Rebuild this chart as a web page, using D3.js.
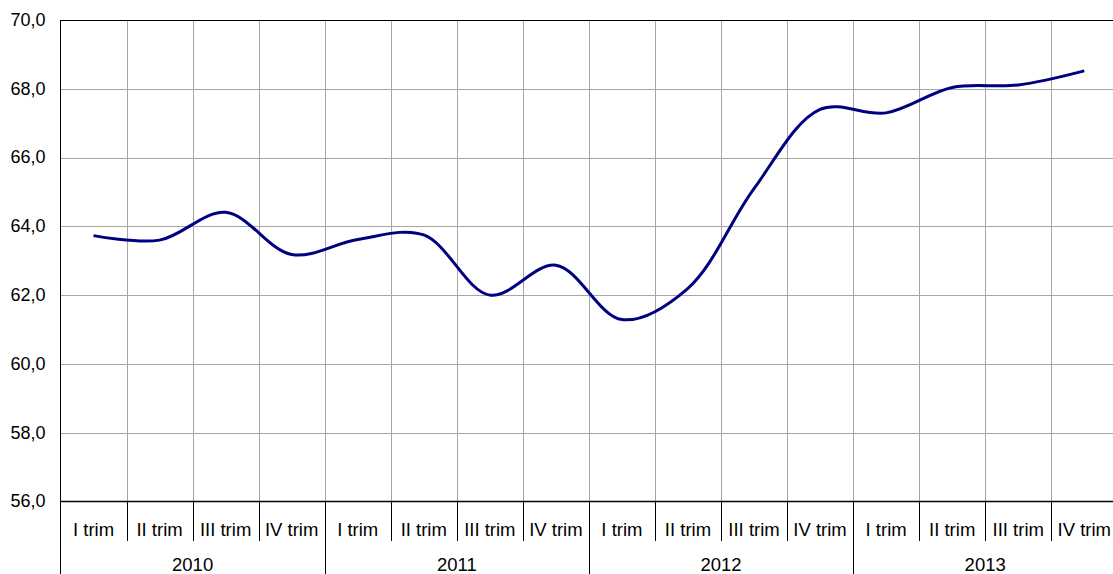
<!DOCTYPE html>
<html>
<head>
<meta charset="utf-8">
<script src="https://cdn.jsdelivr.net/npm/d3@7"></script>
<style>
  body { margin: 0; background: #fff; }
  svg text { font-family: Arial, "Liberation Sans", sans-serif; fill: #000; }
</style>
</head>
<body>
<svg id="chart" width="1113" height="574"></svg>
<script>
const years = ["2010", "2011", "2012", "2013"];
const quarters = ["I trim", "II trim", "III trim", "IV trim"];
const values = [63.73, 63.6, 64.41, 63.18,
                63.62, 63.75, 62.0, 62.87,
                61.29, 62.2, 65.1, 67.4,
                67.3, 68.04, 68.11, 68.52];
const yTicks = [56, 58, 60, 62, 64, 66, 68, 70];

const plotLeft = 60.5, plotTop = 20, plotBottom = 501.5, plotRight = 1117.3;
const svg = d3.select("#chart");

const keys = [];
years.forEach(y => quarters.forEach(q => keys.push(y + " " + q)));
const data = keys.map((k, i) => ({ key: k, year: years[Math.floor(i / 4)], q: quarters[i % 4], value: values[i] }));

const x = d3.scaleBand().domain(keys).range([plotLeft, plotRight]);
const y = d3.scaleLinear().domain([56, 70]).range([plotBottom, plotTop]);

// horizontal grid
svg.append("g").selectAll("line")
    .data(yTicks.filter(d => d > 56 && d < 70))
    .join("line")
    .attr("x1", plotLeft).attr("x2", plotRight)
    .attr("y1", d => Math.round(y(d)) + 0.5).attr("y2", d => Math.round(y(d)) + 0.5)
    .attr("stroke", "#a6a6a6").attr("stroke-width", 1);

// vertical grid
svg.append("g").selectAll("line")
    .data(keys.slice(1))
    .join("line")
    .attr("x1", d => Math.round(x(d)) + 0.5).attr("x2", d => Math.round(x(d)) + 0.5)
    .attr("y1", plotTop).attr("y2", plotBottom)
    .attr("stroke", "#a6a6a6").attr("stroke-width", 1);

// top border
svg.append("line")
    .attr("x1", plotLeft).attr("x2", plotRight)
    .attr("y1", plotTop + 0.5).attr("y2", plotTop + 0.5)
    .attr("stroke", "#000").attr("stroke-width", 1);

// y axis
const yAxis = svg.append("g")
    .attr("transform", "translate(" + plotLeft + ",0)")
    .call(d3.axisLeft(y).tickValues(yTicks).tickSize(0).tickPadding(15)
        .tickFormat(d => d3.format(".1f")(d).replace(".", ",")));
yAxis.select(".domain").remove();
yAxis.selectAll("text").style("font-size", "18px").attr("dy", "0.3em");

svg.append("line")
    .attr("x1", plotLeft).attr("x2", plotLeft)
    .attr("y1", plotTop).attr("y2", 574)
    .attr("stroke", "#000").attr("stroke-width", 1);

// x axis baseline
svg.append("line")
    .attr("x1", plotLeft).attr("x2", plotRight)
    .attr("y1", plotBottom).attr("y2", plotBottom)
    .attr("stroke", "#000").attr("stroke-width", 1.5);

// quarter separators and labels
svg.append("g").selectAll("line")
    .data(keys.slice(1))
    .join("line")
    .attr("x1", d => Math.round(x(d)) + 0.5).attr("x2", d => Math.round(x(d)) + 0.5)
    .attr("y1", plotBottom).attr("y2", (d, i) => (i + 1) % 4 === 0 ? 574 : 541)
    .attr("stroke", "#000").attr("stroke-width", 1);

svg.append("g").selectAll("text")
    .data(data)
    .join("text")
    .attr("x", d => x(d.key) + x.bandwidth() / 2)
    .attr("y", 530)
    .attr("dy", "0.35em")
    .attr("text-anchor", "middle")
    .style("font-size", "18.5px")
    .text(d => d.q);

svg.append("g").selectAll("text")
    .data(years)
    .join("text")
    .attr("x", d => x(d + " I trim") + x.bandwidth() * 2)
    .attr("y", 565)
    .attr("dy", "0.35em")
    .attr("text-anchor", "middle")
    .style("font-size", "18.5px")
    .text(d => d);

// line
const line = d3.line()
    .x(d => x(d.key) + x.bandwidth() / 2)
    .y(d => y(d.value))
    .curve(d3.curveCatmullRom.alpha(0.5));

svg.append("path")
    .datum(data)
    .attr("d", line)
    .attr("fill", "none")
    .attr("stroke", "#000080")
    .attr("stroke-width", 3);
</script>
</body>
</html>
